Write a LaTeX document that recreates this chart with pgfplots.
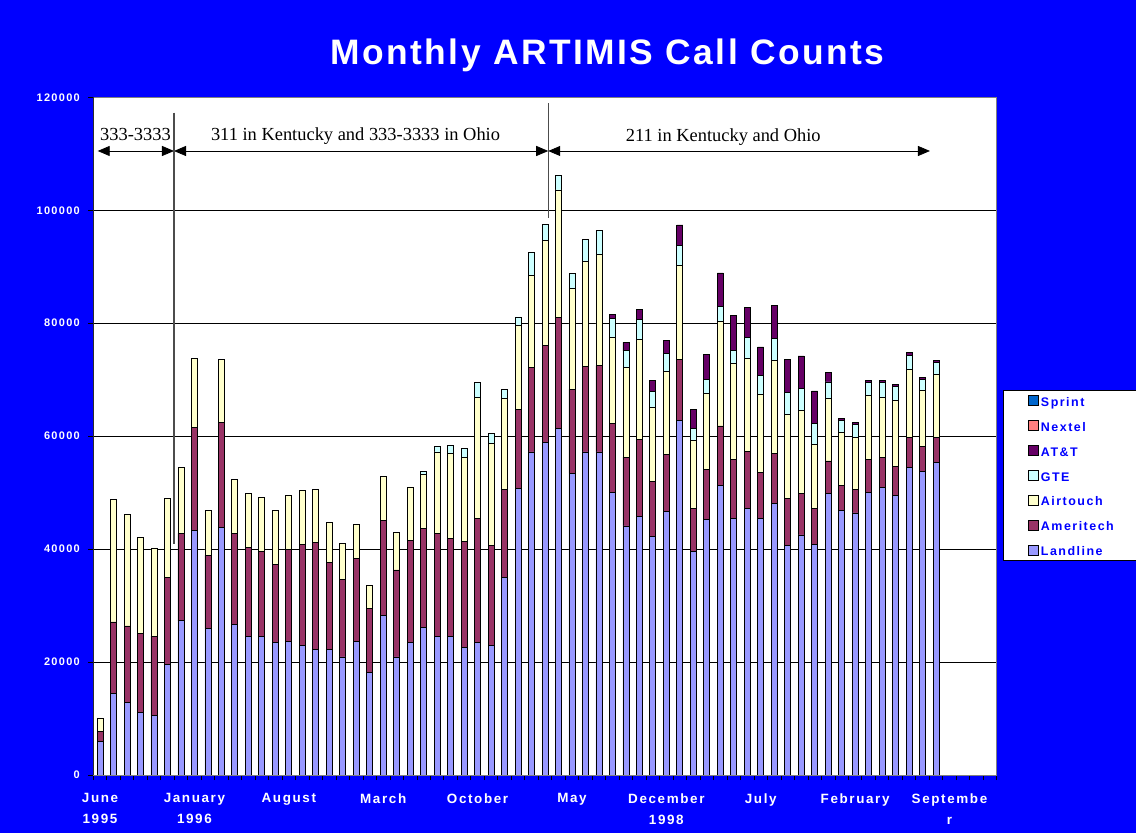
\documentclass[border=0pt]{standalone}
\usepackage{fontspec}
\usepackage{pgfplots}
\pgfplotsset{compat=1.18}
\usepackage{pgfplotstable}
\usetikzlibrary{arrows.meta}
\setmainfont{Liberation Serif}
\newfontfamily\lbl[LetterSpace=12]{Liberation Sans}
\newfontfamily\ttl[LetterSpace=7]{Liberation Sans}
\definecolor{cL}{HTML}{9999FF}
\definecolor{cAm}{HTML}{993366}
\definecolor{cAir}{HTML}{FFFFCC}
\definecolor{cG}{HTML}{CCFFFF}
\definecolor{cT}{HTML}{660066}
\definecolor{cN}{HTML}{FF8080}
\definecolor{cS}{HTML}{0066CC}
\definecolor{bg}{HTML}{0000FF}
\pgfplotstableread{
i L Am Air G T N S
0 5900 1800 2400 0 0 0 0
1 14400 12700 21700 0 0 0 0
2 12800 13600 19800 0 0 0 0
3 11100 13900 17100 0 0 0 0
4 10600 14000 15600 0 0 0 0
5 19500 15500 13900 0 0 0 0
6 27300 15500 11700 0 0 0 0
7 43300 18200 12200 0 0 0 0
8 25900 13000 7900 0 0 0 0
9 43900 18500 11200 0 0 0 0
10 26700 16100 9600 0 0 0 0
11 24500 15800 9500 0 0 0 0
12 24500 15100 9500 0 0 0 0
13 23500 13800 9500 0 0 0 0
14 23700 16300 9500 0 0 0 0
15 23000 17900 9500 0 0 0 0
16 22200 19000 9400 0 0 0 0
17 22200 15400 7100 0 0 0 0
18 20900 13700 6400 0 0 0 0
19 23700 14700 6000 0 0 0 0
20 18100 11400 4100 0 0 0 0
21 28300 16700 7900 0 0 0 0
22 20900 15400 6600 0 0 0 0
23 23400 18100 9500 0 0 0 0
24 26100 17600 9500 600 0 0 0
25 24500 18200 14500 900 0 0 0
26 24500 17400 15000 1400 0 0 0
27 22600 18700 15000 1600 0 0 0
28 23400 22000 21500 2600 0 0 0
29 23000 17600 18100 1800 0 0 0
30 35000 15600 16100 1500 0 0 0
31 50700 14000 14900 1500 0 0 0
32 57200 15000 16300 4000 0 0 0
33 58900 17100 18700 2800 0 0 0
34 61400 19600 22600 2500 0 0 0
35 53400 14900 17900 2600 0 0 0
36 57200 15200 18600 3900 0 0 0
37 57200 15300 19700 4300 0 0 0
38 50100 12100 15300 3300 700 0 0
39 44100 12200 15800 3000 1500 0 0
40 45800 13600 17700 3500 1900 0 0
41 42300 9600 13200 2800 2000 0 0
42 46600 10100 14800 3100 2300 0 0
43 62800 10800 16600 3600 3600 0 0
44 39600 7600 12000 2200 3300 0 0
45 45200 8900 13400 2500 4400 0 0
46 51200 10600 18500 2600 6000 0 0
47 45400 10400 17000 2400 6100 0 0
48 47200 10100 16500 3600 5400 0 0
49 45400 8100 13900 3400 5000 0 0
50 48100 8800 16500 3900 5900 0 0
51 40700 8200 15000 3900 5800 0 0
52 42500 7400 14600 3900 5800 0 0
53 40800 6400 11400 3700 5700 0 0
54 49800 5800 11000 3000 1600 0 0
55 46800 4400 9400 2200 400 0 0
56 46400 4200 9200 2300 400 0 0
57 50100 5700 11400 2300 300 0 0
58 50900 5300 10700 2600 300 0 0
59 49500 5200 11600 2500 300 0 0
60 54400 5400 12000 2500 500 0 0
61 53800 4300 10000 2000 300 0 0
62 55300 4400 11200 2200 300 0 0
}\data
\pgfplotsset{
  mybar/.style={fill=#1, draw=black, line width=0.8bp,
    legend image code/.code={\path (-14bp,0bp); \draw[fill=#1,draw=black,line width=0.8bp] (0bp,-3.5bp) rectangle (10bp,6.5bp);}},
}
\begin{document}
\begin{tikzpicture}
\fill[bg] (0,0) rectangle (1136bp,833bp);
\node[anchor=base, text=white, inner sep=0pt] at (607.5bp,768bp) {\ttl\bfseries\fontsize{35.5}{40}\selectfont Monthly ARTIMIS Call Counts};
\begin{axis}[
  at={(93.3bp,58bp)}, anchor=south west, scale only axis,
  width=903.4bp, height=677.7bp,
  ybar stacked, bar width=0.445,
  xmin=-0.5, xmax=66.5, ymin=0, ymax=120000,
  scaled y ticks=false,
  axis background/.style={fill=white},
  axis line style={draw=gray, line width=0.8bp},
  ytick={0,20000,40000,60000,80000,100000,120000},
  yticklabels={0,20000,40000,60000,80000,100000,120000},
  ymajorgrids, grid style={black, line width=0.6bp},
  xtick={0,7,14,21,28,35,42,49,56,63},
  xticklabels={{June\\1995},{January\\1996},August,March,October,May,{December\\1998},July,February,{Septembe\\r}},
  minor xtick={-0.5,0.5,...,66.5},
  tick pos=left, tick align=outside,
  major tick length=5bp, minor tick length=5bp,
  major x tick style={draw=none},
  minor x tick style={black, line width=0.8bp},
  major y tick style={black, line width=0.8bp},
  tick label style={text=white},
  yticklabel style={font=\lbl\bfseries\fontsize{11}{13}\selectfont, xshift=-5bp},
  xticklabel style={align=center, font=\lbl\bfseries\fontsize{13.5}{21.3}\selectfont, yshift=-10bp},
  reverse legend,
  legend style={at={(axis description cs:1.0067,0.568)}, anchor=north west,
    draw=black, fill=white, line width=0.8bp, inner xsep=11bp, inner ysep=5bp,
    row sep=14bp, font=\lbl\bfseries\fontsize{12.5}{14}\selectfont,
    nodes={inner xsep=2bp, inner ysep=0bp, text height=8bp, text depth=0bp, text width=82bp, align=left, text=bg}},
]
\addplot[mybar=cL] table[x=i, y=L] {\data};
\addplot[mybar=cAm] table[x=i, y=Am] {\data};
\addplot[mybar=cAir] table[x=i, y=Air] {\data};
\addplot[mybar=cG] table[x=i, y=G] {\data};
\addplot[mybar=cT] table[x=i, y=T] {\data};
\addplot[mybar=cN] table[x=i, y=N] {\data};
\addplot[mybar=cS] table[x=i, y=S] {\data};
\legend{Landline,Ameritech,Airtouch,GTE,AT\&T,Nextel,Sprint}
\draw[black, line width=0.8bp] (rel axis cs:0,1) -- (rel axis cs:0,0) -- (rel axis cs:1,0);
\draw[black!70, line width=1.2bp] (axis cs:5.485,117273) -- (axis cs:5.485,40903);
\draw[black!70, line width=1.2bp] (axis cs:33.24,118940) -- (axis cs:33.24,98682);
\draw[black, line width=0.8bp, {Triangle[length=12bp,width=10bp]}-{Triangle[length=12bp,width=10bp]}] (axis cs:-0.174,110492) -- (axis cs:5.485,110492);
\draw[black, line width=0.8bp, {Triangle[length=12bp,width=10bp]}-{Triangle[length=12bp,width=10bp]}] (axis cs:5.485,110492) -- (axis cs:33.24,110492);
\draw[black, line width=0.8bp, {Triangle[length=12bp,width=10bp]}-{Triangle[length=12bp,width=10bp]}] (axis cs:33.24,110492) -- (axis cs:61.55,110492);
\node[anchor=base, inner sep=0pt, font=\fontsize{18.5}{20}\selectfont] at (axis cs:2.63,112316) {333-3333};
\node[anchor=base, inner sep=0pt, font=\fontsize{18.5}{20}\selectfont] at (axis cs:18.95,112316) {311 in Kentucky and 333-3333 in Ohio};
\node[anchor=base, inner sep=0pt, font=\fontsize{18.5}{20}\selectfont] at (axis cs:46.22,112100) {211 in Kentucky and Ohio};
\end{axis}
\pgfresetboundingbox
\useasboundingbox (0,0) rectangle (1136bp,833bp);
\end{tikzpicture}
\end{document}
